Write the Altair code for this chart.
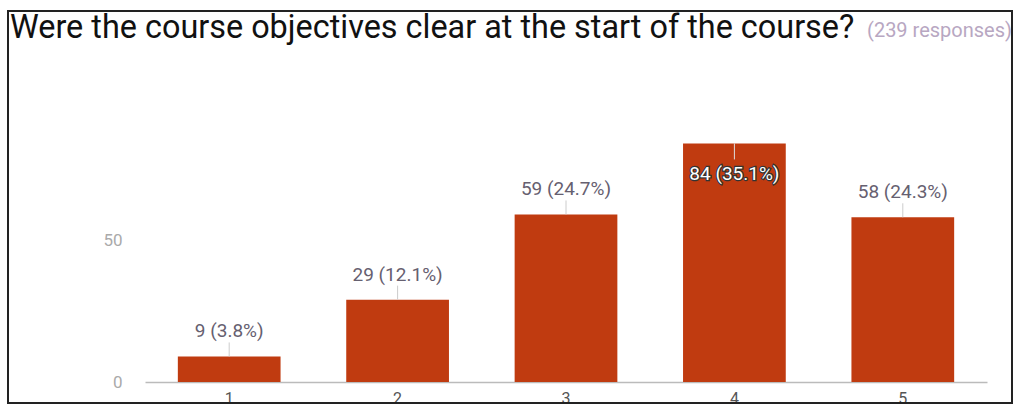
import altair as alt
import pandas as pd

# ---- data ----
answers = ["1", "2", "3", "4", "5"]
counts = [9, 29, 59, 84, 58]
percents = [3.8, 12.1, 24.7, 35.1, 24.3]
title_text = "Were the course objectives clear at the start of the course?"
responses_text = "(239 responses)"
y_ticks = [0, 50]

df = pd.DataFrame({"answer": answers, "count": counts, "pct": percents})
df["label"] = [f"{c} ({p:.1f}%)" for c, p in zip(counts, percents)]

FONT = "Roboto"
BAR = "#c03b10"

base = alt.Chart(df)

x = alt.X("answer:O", sort=answers,
          scale=alt.Scale(paddingInner=0.39, paddingOuter=0.195),
          axis=alt.Axis(title=None, labelAngle=0, ticks=False, domainColor="#bbbbbb",
                        domainWidth=1.5, labelColor="#555555", labelFontSize=16,
                        labelPadding=8, labelFont=FONT))
y = alt.Y("count:Q", scale=alt.Scale(domain=[0, 100], nice=False),
          axis=alt.Axis(title=None, values=y_ticks, grid=False, domain=False, ticks=False,
                        labelColor="#aaaaaa", labelFontSize=17, labelPadding=23,
                        labelFont=FONT))

bars = base.mark_bar(color=BAR).encode(x=x, y=y)

above = base.transform_filter("datum.count < 80")
inside = base.transform_filter("datum.count >= 80")

rule_above = above.mark_rule(color="#cccccc", y2Offset=-14).encode(
    x="answer:O", y="count:Q", y2="count:Q")
rule_inside = inside.mark_rule(color="#dddddd", y2Offset=16).encode(
    x="answer:O", y="count:Q", y2="count:Q")

text_above = above.mark_text(font=FONT, fontSize=19, color="#666070",
                             baseline="alphabetic", dy=-19).encode(
    x="answer:O", y="count:Q", text="label:N")
text_inside_halo = inside.mark_text(font=FONT, fontSize=19, color="#333333",
                                    stroke="#333333", strokeWidth=2.5,
                                    baseline="alphabetic", dy=37).encode(
    x="answer:O", y="count:Q", text="label:N")
text_inside = inside.mark_text(font=FONT, fontSize=19, color="#ffffff",
                               baseline="alphabetic", dy=37).encode(
    x="answer:O", y="count:Q", text="label:N")

one = alt.Chart(pd.DataFrame({"k": [0]}))
frame = one.mark_rect(filled=False, stroke="#222222", strokeWidth=2).encode(
    x=alt.value(-137), x2=alt.value(867), y=alt.value(-87), y2=alt.value(305))
title = one.mark_text(font=FONT, fontSize=32.4, color="#111111", align="left",
                      baseline="alphabetic").encode(
    x=alt.value(-135), y=alt.value(-60), text=alt.value(title_text))
subtitle = one.mark_text(font=FONT, fontSize=20, color="#b8a7c2", align="right",
                         baseline="alphabetic").encode(
    x=alt.value(867), y=alt.value(-61), text=alt.value(responses_text))

chart = alt.layer(
    bars, rule_above, rule_inside, text_above, text_inside_halo, text_inside,
    frame, title, subtitle
).properties(
    width=842, height=284,
    autosize=alt.AutoSizeParams(type="none"),
    padding={"left": 145, "top": 98, "right": 28, "bottom": 25},
    background="white",
).configure_view(stroke=None)

chart.save("out.html", embed_options={"renderer": "svg", "actions": False})
